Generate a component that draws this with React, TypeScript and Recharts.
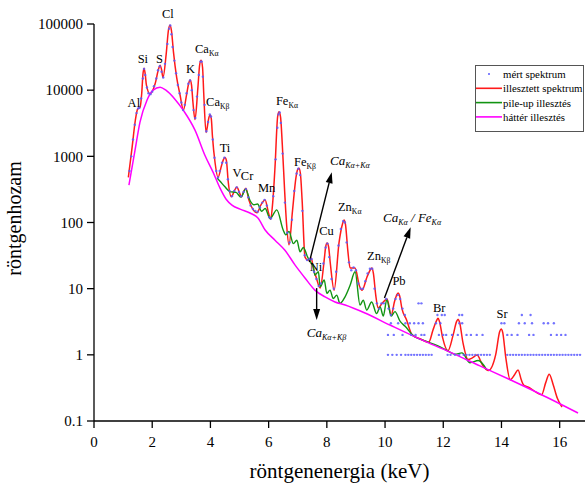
import React from 'react';
import { ComposedChart, Line, Scatter, XAxis, YAxis, ReferenceDot, ReferenceLine } from 'recharts';

const FONT = '"Liberation Serif", "Times New Roman", Times, serif';
const RED = '#ff1a1a';
const GREEN = '#129412';
const MAGENTA = '#ff00ff';
const BLUE = '#5a5aff';

// illesztett spektrum [keV, counts]
const fitted: [number, number][] = [
  [1.18, 480], [1.31, 1380], [1.42, 3500], [1.5, 5200], [1.58, 5500], [1.64, 9000], [1.68, 17000], [1.72, 21500],
  [1.76, 17500], [1.8, 12000], [1.92, 8800], [2.1, 12500], [2.22, 21000], [2.27, 23900], [2.32, 20500], [2.37, 15500],
  [2.48, 35000], [2.56, 82000], [2.61, 96000], [2.66, 80000], [2.73, 38000], [2.84, 15600], [2.96, 8300], [3.07, 5000],
  [3.18, 8500], [3.25, 12500], [3.3, 14200], [3.35, 12000], [3.4, 6500], [3.47, 3600], [3.57, 11000], [3.63, 24000],
  [3.68, 28400], [3.73, 22000], [3.77, 9000], [3.85, 2300], [3.92, 3300], [3.95, 3900], [3.99, 4200], [4.03, 3700],
  [4.07, 2000], [4.16, 800], [4.26, 480], [4.38, 720], [4.45, 900], [4.5, 960], [4.55, 860], [4.61, 420],
  [4.72, 245], [4.82, 300], [4.91, 345], [5.0, 280], [5.07, 245], [5.15, 300], [5.22, 330], [5.32, 220],
  [5.45, 160], [5.6, 140], [5.75, 190], [5.88, 218], [5.98, 150], [6.07, 112], [6.14, 200], [6.22, 700],
  [6.31, 4000], [6.36, 4700], [6.41, 3900], [6.47, 1500], [6.55, 300], [6.62, 90], [6.7, 46], [6.82, 150],
  [6.94, 480], [6.99, 620], [7.04, 660], [7.09, 560], [7.15, 220], [7.25, 30], [7.35, 27], [7.46, 29],
  [7.55, 19], [7.63, 15], [7.77, 10.2], [7.92, 30], [7.96, 43], [8.01, 49], [8.06, 43], [8.12, 24],
  [8.25, 9.5], [8.42, 50], [8.54, 96], [8.59, 109], [8.64, 94], [8.72, 38], [8.8, 20.5], [8.97, 20.5],
  [9.12, 11], [9.21, 9.5], [9.38, 15], [9.5, 19.5], [9.55, 20.5], [9.6, 17], [9.68, 8], [9.76, 5.1],
  [9.9, 6.0], [10.07, 7.0], [10.21, 4.0], [10.33, 6.5], [10.41, 8.2], [10.45, 8.6], [10.5, 7.8], [10.58, 5],
  [10.74, 3.36], [10.93, 2.0], [11.2, 1.75], [11.5, 1.55], [11.65, 2.4], [11.77, 3.3], [11.82, 3.56], [11.87, 3.2],
  [11.98, 1.8], [12.16, 1.15], [12.34, 2.0], [12.46, 3.2], [12.51, 3.44], [12.56, 3.1], [12.68, 1.5], [12.85, 0.85],
  [13.0, 0.9], [13.16, 0.99], [13.35, 0.7], [13.55, 0.58], [13.8, 1.0], [13.94, 2.25], [13.99, 2.45], [14.04, 2.2],
  [14.15, 0.9], [14.3, 0.42], [14.45, 0.5], [14.57, 0.59], [14.68, 0.42], [14.76, 0.35], [14.96, 0.32], [15.2, 0.27],
  [15.38, 0.25], [15.52, 0.38], [15.64, 0.51], [15.78, 0.35], [15.92, 0.22], [16.08, 0.163],
];

// pile-up illesztés
const pileEnergy = [4.23, 4.33, 4.5, 4.67, 4.88, 5.05, 5.21, 5.36, 5.5, 5.62, 5.76, 5.88, 6.05, 6.28, 6.5, 6.59, 6.7, 6.85, 6.97, 7.08, 7.19, 7.34, 7.42, 7.54, 7.59, 7.71, 7.77, 7.91, 8.0, 8.11, 8.22, 8.34, 8.45, 8.63, 8.8, 8.97, 9.14, 9.25, 9.37, 9.54, 9.71, 9.83, 9.94, 10.06, 10.21, 10.34, 10.52, 10.69, 10.97, 11.32, 11.8, 12.2, 12.4, 12.64, 12.92, 13.2, 13.49];
const pileCounts = [470, 420, 346, 293, 285, 242, 320, 215, 185, 190, 148, 163, 115, 155, 77, 65, 73, 48, 54, 36, 42, 30, 26, 21, 16, 18, 10.7, 13.5, 8.5, 9.5, 7.1, 8.0, 6.0, 7.6, 11.3, 18, 5.65, 6.7, 4.75, 6.3, 4.2, 5.3, 3.86, 6.8, 3.86, 4.5, 3.2, 2.7, 1.95, 1.65, 1.38, 1.12, 1.02, 1.07, 0.76, 0.82, 0.6];

// háttér illesztés
const bgEnergy = [1.2, 1.41, 1.58, 1.82, 2.03, 2.27, 2.47, 2.78, 3.09, 3.47, 3.81, 4.09, 4.33, 4.54, 4.74, 5.02, 5.36, 5.64, 5.88, 6.22, 6.56, 6.91, 7.25, 7.59, 7.94, 8.28, 8.63, 9.31, 10.17, 11.2, 12.23, 13.26, 14.3, 15.33, 16.63];
const bgCounts = [367, 1240, 3290, 7060, 10000, 11100, 10000, 7310, 4820, 2490, 1040, 577, 331, 225, 183, 159, 139, 116, 77, 54, 38, 22.7, 14.5, 9.5, 7.5, 6.3, 5.65, 4.28, 2.82, 1.73, 1.1, 0.68, 0.42, 0.256, 0.132];

// mért spektrum: points on the peaks [keV, counts]
const measuredPeaks: [number, number][] = [
  [1.22, 600], [1.28, 1000], [1.34, 1800], [1.4, 3000], [1.46, 4500], [1.52, 5300], [1.56, 5400], [1.62, 7500],
  [1.68, 15000], [1.72, 21000], [1.76, 17000], [1.82, 11000], [1.87, 9000], [1.94, 8700], [2.0, 9500], [2.06, 11500],
  [2.14, 15000], [2.2, 20000], [2.26, 23000], [2.32, 19000], [2.38, 15500], [2.44, 25000], [2.52, 50000], [2.58, 85000],
  [2.62, 95000], [2.66, 70000], [2.7, 45000], [2.76, 28000], [2.82, 18000], [2.88, 12000], [2.94, 9000], [3.0, 6500],
  [3.06, 5000], [3.12, 6000], [3.18, 9000], [3.24, 12500], [3.3, 14000], [3.36, 10000], [3.42, 5000], [3.48, 3800],
  [3.54, 8000], [3.6, 17000], [3.66, 27000], [3.7, 27000], [3.74, 16000], [3.8, 6000], [3.86, 2400], [3.92, 3300],
  [3.98, 4300], [4.02, 4000], [4.08, 1800], [4.14, 950], [4.2, 600], [4.26, 480], [4.32, 600], [4.4, 800],
  [4.48, 950], [4.54, 800], [4.6, 450], [4.66, 300], [4.74, 250], [4.82, 300], [4.9, 340], [4.98, 290],
  [5.06, 250], [5.14, 290], [5.22, 320], [5.3, 240], [5.38, 180], [5.46, 160], [5.54, 150], [5.62, 145],
  [5.7, 170], [5.78, 200], [5.86, 220], [5.94, 180], [6.02, 120], [6.08, 115], [6.16, 250], [6.24, 900],
  [6.3, 2700], [6.34, 4300], [6.38, 4600], [6.42, 3200], [6.48, 1100], [6.56, 200], [6.64, 70], [6.72, 50],
  [6.8, 110], [6.88, 300], [6.96, 550], [7.02, 650], [7.08, 520], [7.16, 150], [7.24, 32], [7.32, 27],
  [7.4, 28], [7.48, 28], [7.56, 18], [7.64, 14], [7.72, 11], [7.8, 12], [7.88, 24], [7.96, 42],
  [8.02, 48], [8.08, 30], [8.16, 14], [8.24, 10], [8.32, 18], [8.4, 45], [8.48, 80], [8.56, 105],
  [8.62, 100], [8.68, 50], [8.76, 25], [8.84, 19], [8.92, 21], [9.0, 19], [9.08, 12], [9.16, 10],
  [9.24, 10], [9.32, 13], [9.4, 17], [9.48, 20], [9.56, 20], [9.64, 10], [9.72, 6], [9.8, 5],
  [9.88, 6], [9.96, 6], [10.04, 7], [10.12, 5], [10.2, 4], [10.28, 5], [10.36, 7], [10.44, 8],
  [10.52, 7], [10.6, 5], [10.68, 4],
];

// mért spektrum: tail channels with 1, 2, 3, 4 and 6 counts (keV)
const tailOnes = [10.1, 10.25, 10.4, 10.55, 10.7, 10.8, 10.9, 11.0, 11.1, 11.2, 11.3, 11.4, 11.5, 11.6, 12.15, 12.25, 12.4, 12.55, 12.7, 12.8, 12.9, 13.0, 13.1, 13.2, 13.3, 13.4, 13.5, 13.6, 14.2, 14.3, 14.4, 14.5, 14.6, 14.7, 14.8, 14.9, 15.0, 15.1, 15.2, 15.3, 15.4, 15.5, 15.6, 15.7, 15.8, 15.9, 16.0, 16.1, 16.2, 16.3, 16.4, 16.5, 16.6, 16.7];
const tailTwos = [10.1, 10.3, 10.6, 10.9, 11.05, 11.25, 11.35, 11.85, 12.0, 12.1, 12.3, 12.5, 12.8, 12.95, 13.15, 13.35, 14.2, 14.35, 14.55, 14.95, 15.1, 15.7, 15.9, 16.05, 16.2];
const tailThrees = [10.2, 10.45, 10.7, 10.85, 11.0, 11.15, 11.3, 11.75, 11.9, 12.55, 12.65, 14.0, 14.1, 14.6, 14.8, 15.05, 15.45, 15.6, 15.8];
const tailFours = [11.8, 11.95, 12.05, 12.55, 12.65, 14.7, 15.0];
const tailSixes = [11.15, 11.25];

const xTicks = [0, 2, 4, 6, 8, 10, 12, 14, 16];
const yTicks = [0.1, 1, 10, 100, 1000, 10000, 100000];

type Part = { t: string; sub?: boolean };
type Tag = { parts: Part[]; e: number; c: number; anchor: 'start' | 'middle'; italic?: boolean };

const peakTags: Tag[] = [
  { parts: [{ t: 'Al' }], e: 1.37, c: 5540, anchor: 'middle' },
  { parts: [{ t: 'Si' }], e: 1.68, c: 25600, anchor: 'middle' },
  { parts: [{ t: 'S' }], e: 2.25, c: 26000, anchor: 'middle' },
  { parts: [{ t: 'Cl' }], e: 2.54, c: 122000, anchor: 'middle' },
  { parts: [{ t: 'K' }], e: 3.32, c: 18100, anchor: 'middle' },
  { parts: [{ t: 'Ca' }, { t: 'Kα', sub: true }], e: 3.47, c: 36200, anchor: 'start' },
  { parts: [{ t: 'Ca' }, { t: 'Kβ', sub: true }], e: 3.85, c: 5730, anchor: 'start' },
  { parts: [{ t: 'Ti' }], e: 4.5, c: 1157, anchor: 'middle' },
  { parts: [{ t: 'V' }], e: 4.91, c: 485, anchor: 'middle' },
  { parts: [{ t: 'Cr' }], e: 5.26, c: 437, anchor: 'middle' },
  { parts: [{ t: 'Mn' }], e: 5.93, c: 288, anchor: 'middle' },
  { parts: [{ t: 'Fe' }, { t: 'Kα', sub: true }], e: 6.25, c: 5940, anchor: 'start' },
  { parts: [{ t: 'Fe' }, { t: 'Kβ', sub: true }], e: 6.87, c: 711, anchor: 'start' },
  { parts: [{ t: 'Ni' }], e: 7.63, c: 18.4, anchor: 'middle' },
  { parts: [{ t: 'Cu' }], e: 7.99, c: 64.5, anchor: 'middle' },
  { parts: [{ t: 'Zn' }, { t: 'Kα', sub: true }], e: 8.38, c: 149, anchor: 'start' },
  { parts: [{ t: 'Zn' }, { t: 'Kβ', sub: true }], e: 9.38, c: 27, anchor: 'start' },
  { parts: [{ t: 'Pb' }], e: 10.48, c: 11.3, anchor: 'middle' },
  { parts: [{ t: 'Br' }], e: 11.86, c: 4.43, anchor: 'middle' },
  { parts: [{ t: 'Sr' }], e: 14.02, c: 3.6, anchor: 'middle' },
];

const pileTags: Tag[] = [
  { parts: [{ t: 'Ca' }, { t: 'Kα+Kα', sub: true }], e: 8.11, c: 736, anchor: 'start', italic: true },
  { parts: [{ t: 'Ca' }, { t: 'Kα+Kβ', sub: true }], e: 7.31, c: 1.86, anchor: 'start', italic: true },
  { parts: [{ t: 'Ca' }, { t: 'Kα', sub: true }, { t: ' / Fe' }, { t: 'Kα', sub: true }], e: 9.93, c: 101, anchor: 'start', italic: true },
];

const arrows = [
  { from: [7.4, 25.2], to: [8.17, 577] },
  { from: [7.65, 10.2], to: [7.65, 3.36] },
  { from: [9.98, 7.2], to: [10.88, 85] },
];

const legendItems = [
  { name: 'mért spektrum', color: BLUE, kind: 'dot' },
  { name: 'illesztett spektrum', color: RED, kind: 'line' },
  { name: 'pile-up illesztés', color: GREEN, kind: 'line' },
  { name: 'háttér illesztés', color: MAGENTA, kind: 'line' },
];

const zip = (e: number[], c: number[]) => e.map((v, i) => ({ e: v, c: c[i] }));
const fitData = fitted.map(([e, c]) => ({ e, c }));
const pileData = zip(pileEnergy, pileCounts);
const bgData = zip(bgEnergy, bgCounts);
const measData = [
  ...measuredPeaks.map(([e, c]) => ({ e, c })),
  ...tailOnes.map((e) => ({ e, c: 1 })),
  ...tailTwos.map((e) => ({ e, c: 2 })),
  ...tailThrees.map((e) => ({ e, c: 3 })),
  ...tailFours.map((e) => ({ e, c: 4 })),
  ...tailSixes.map((e) => ({ e, c: 6 })),
];

function TagText({ cx, cy, tag, size }: { cx: number; cy: number; tag: Tag; size: number }) {
  let down = false;
  return (
    <text x={cx} y={cy} textAnchor={tag.anchor} fontFamily={FONT} fontSize={size} fontStyle={tag.italic ? 'italic' : 'normal'} fill="#000">
      {tag.parts.map((p, i) => {
        let dy = 0;
        if (p.sub && !down) { dy = 3; down = true; }
        else if (!p.sub && down) { dy = -3; down = false; }
        return (
          <tspan key={i} dy={dy} fontSize={p.sub ? size * 0.62 : size}>{p.t}</tspan>
        );
      })}
    </text>
  );
}

function ArrowShape(p: any) {
  const { x1, y1, x2, y2 } = p;
  const a = Math.atan2(y2 - y1, x2 - x1);
  const L = 11, W = 3.5;
  const bx = x2 - L * Math.cos(a), by = y2 - L * Math.sin(a);
  const pts = `${x2},${y2} ${bx - W * Math.sin(a)},${by + W * Math.cos(a)} ${bx + W * Math.sin(a)},${by - W * Math.cos(a)}`;
  return (
    <g>
      <line x1={x1} y1={y1} x2={bx} y2={by} stroke="#000" strokeWidth={1.4} />
      <polygon points={pts} fill="#000" />
    </g>
  );
}

const tickStyle = { fill: '#000', fontSize: 15, fontFamily: FONT };
const axisStroke = { stroke: '#000', strokeWidth: 1.3 };

export default function App() {
  return (
    <div style={{ position: 'absolute', left: 0, top: 0, width: 585, height: 483, background: '#fff' }}>
      <ComposedChart width={585} height={483} margin={{ top: 24, right: 0, bottom: 0, left: 0 }}>
        <XAxis
          type="number"
          dataKey="e"
          domain={[0, 16.87]}
          ticks={xTicks}
          interval={0}
          allowDataOverflow
          height={62}
          tickSize={7}
          tickMargin={8}
          tick={tickStyle}
          axisLine={axisStroke}
          tickLine={axisStroke}
          label={{
            content: (props: any) => {
              const vb = props.viewBox || { x: 94, y: 421, width: 491, height: 62 };
              return (
                <text x={vb.x + vb.width / 2} y={vb.y + vb.height - 5} textAnchor="middle" fontFamily={FONT} fontSize={21} fill="#000">
                  röntgenenergia (keV)
                </text>
              );
            },
          }}
        />
        <YAxis
          scale="log"
          domain={[0.1, 100000]}
          ticks={yTicks}
          interval={0}
          allowDataOverflow
          width={94}
          tickSize={7}
          tickMargin={4}
          tick={tickStyle}
          axisLine={axisStroke}
          tickLine={axisStroke}
          label={{
            content: (props: any) => {
              const vb = props.viewBox || { x: 0, y: 24, width: 94, height: 397 };
              const x = vb.x + 21;
              const y = vb.y + vb.height / 2 - 4;
              return (
                <text x={x} y={y} transform={`rotate(-90 ${x} ${y})`} textAnchor="middle" fontFamily={FONT} fontSize={20} fill="#000">
                  röntgenhozam
                </text>
              );
            },
          }}
        />
        <Line data={fitData} dataKey="c" type="monotone" stroke={RED} strokeWidth={1.5} dot={false} activeDot={false} isAnimationActive={false} />
        <Line data={pileData} dataKey="c" type="monotone" stroke={GREEN} strokeWidth={1.4} dot={false} activeDot={false} isAnimationActive={false} />
        <Line data={bgData} dataKey="c" type="monotone" stroke={MAGENTA} strokeWidth={1.5} dot={false} activeDot={false} isAnimationActive={false} />
        <Scatter
          data={measData}
          dataKey="c"
          isAnimationActive={false}
          shape={(p: any) => <circle cx={p.cx} cy={p.cy} r={1.2} fill={BLUE} opacity={0.85} />}
        />
        {arrows.map((a, i) => (
          <ReferenceLine
            key={`ar${i}`}
            segment={[{ x: a.from[0], y: a.from[1] }, { x: a.to[0], y: a.to[1] }]}
            ifOverflow="visible"
            shape={(p: any) => <ArrowShape {...p} />}
          />
        ))}
        {peakTags.map((t, i) => (
          <ReferenceDot key={`pk${i}`} x={t.e} y={t.c} r={0} ifOverflow="visible" shape={(p: any) => <TagText cx={p.cx} cy={p.cy} tag={t} size={12.5} />} />
        ))}
        {pileTags.map((t, i) => (
          <ReferenceDot key={`pt${i}`} x={t.e} y={t.c} r={0} ifOverflow="visible" shape={(p: any) => <TagText cx={p.cx} cy={p.cy} tag={t} size={13} />} />
        ))}
      </ComposedChart>
      <svg style={{ position: 'absolute', left: 475, top: 65 }} width={110} height={68}>
        <rect x={0.5} y={0.5} width={108} height={66} fill="#fff" stroke="#555" strokeWidth={1} />
        {legendItems.map((it, i) => {
          const y = 9 + i * 14.3;
          return (
            <g key={it.name}>
              {it.kind === 'dot' ? (
                <circle cx={14} cy={y} r={1} fill={it.color} />
              ) : (
                <line x1={1} x2={27} y1={y} y2={y} stroke={it.color} strokeWidth={1.6} />
              )}
              <text x={28} y={y + 4} fontFamily={FONT} fontSize={10.8} fill="#000">{it.name}</text>
            </g>
          );
        })}
      </svg>
    </div>
  );
}
